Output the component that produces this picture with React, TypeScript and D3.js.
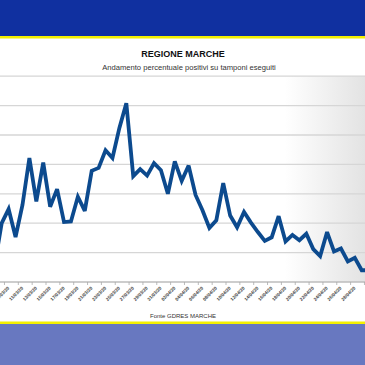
import React from "react";
import * as d3 from "d3";

const W = 365;
const H = 365;

const dates = [
  "07/03/20","08/03/20","09/03/20","10/03/20","11/03/20","12/03/20","13/03/20","14/03/20","15/03/20","16/03/20",
  "17/03/20","18/03/20","19/03/20","20/03/20","21/03/20","22/03/20","23/03/20","24/03/20","25/03/20","26/03/20",
  "27/03/20","28/03/20","29/03/20","30/03/20","31/03/20","01/04/20","02/04/20","03/04/20","04/04/20","05/04/20",
  "06/04/20","07/04/20","08/04/20","09/04/20","10/04/20","11/04/20","12/04/20","13/04/20","14/04/20","15/04/20",
  "16/04/20","17/04/20","18/04/20","19/04/20","20/04/20","21/04/20","22/04/20","23/04/20","24/04/20","25/04/20",
  "26/04/20","27/04/20","28/04/20","29/04/20","30/04/20"
];

const positivi = [
  3.0, 10.0, 12.4, 7.65, 13.1, 21.1, 13.7, 20.3, 12.8, 15.8,
  10.2, 10.3, 14.5, 12.1, 18.9, 19.4, 22.4, 21.1, 26.2, 30.4,
  18.0, 19.2, 18.1, 20.2, 19.0, 15.0, 20.5, 17.2, 19.8, 14.8,
  12.2, 9.2, 10.5, 16.8, 11.3, 9.3, 11.9, 10.1, 8.5, 7.0,
  7.6, 11.2, 6.9, 8.0, 7.1, 8.2, 5.6, 4.4, 8.5, 5.2,
  5.7, 3.5, 4.1, 2.0, 2.0
];

const yTicks = [0, 5, 10, 15, 20, 25, 30, 35];

const title = "REGIONE MARCHE";
const subtitle = "Andamento percentuale positivi su tamponi eseguiti";
const source = "Fonte GDRES MARCHE";

export default function App() {
  const x = d3.scaleLinear().domain([0, dates.length - 1]).range([-5.22, -5.22 + 6.923 * (dates.length - 1)]);
  const y = d3.scaleLinear().domain([0, 35]).range([282, 76.2]);
  const line = d3
    .line<number>()
    .x((_, i) => x(i))
    .y((d) => y(d))
    .curve(d3.curveLinear);

  const tickIdx = d3.range(1, dates.length, 2).map((i) => i + 0.4);
  const labelIdx = d3.range(0, dates.length, 2).filter((i) => x(i) > 4 && x(i) < W - 2);

  return (
    <svg
      width={W}
      height={H}
      style={{ position: "absolute", left: 0, top: 0, display: "block" }}
      fontFamily="Arial, 'Liberation Sans', sans-serif"
    >
      <defs>
        <linearGradient id="plotGrad" x1="0" x2="1" y1="0" y2="0">
          <stop offset="0" stopColor="#ffffff" />
          <stop offset="0.78" stopColor="#ffffff" />
          <stop offset="1" stopColor="#e3e3e3" />
        </linearGradient>
        <clipPath id="clipAll">
          <rect x={0} y={38} width={W} height={284} />
        </clipPath>
      </defs>
      <rect x={0} y={0} width={W} height={H} fill="#ffffff" />
      <rect x={0} y={0} width={W} height={36} fill="#1030a0" />
      <rect x={0} y={36} width={W} height={2.5} fill="#f4f000" />
      <rect x={0} y={y(35)} width={W} height={y(0) - y(35)} fill="url(#plotGrad)" />

      {yTicks.map((t) => (
        <line key={t} x1={0} x2={W} y1={y(t)} y2={y(t)} stroke={t === 0 ? "#bdbdbd" : "#d6d6d6"} strokeWidth={1.3} />
      ))}
      {tickIdx.map((i) => (
        <line key={i} x1={x(i)} x2={x(i)} y1={y(0)} y2={y(0) + 3} stroke="#aaaaaa" strokeWidth={0.8} />
      ))}
      {labelIdx.map((i) => (
        <text
          key={i}
          transform={`translate(${x(i) + 1},${y(0) + 6.5}) rotate(-45)`}
          textAnchor="end"
          fontSize={4.6}
          fontWeight="bold"
          fill="#444"
        >
          {dates[i]}
        </text>
      ))}

      <g clipPath="url(#clipAll)">
        <path d={line(positivi) || ""} fill="none" stroke="#0c4a8e" strokeWidth={3.8} strokeLinejoin="miter" strokeMiterlimit={3} />
      </g>

      <text x={183} y={56.5} textAnchor="middle" fontSize={9} fontWeight="bold" fill="#111">
        {title}
      </text>
      <text x={189} y={69.5} textAnchor="middle" fontSize={7.6} fill="#333">
        {subtitle}
      </text>
      <text x={183} y={318} textAnchor="middle" fontSize={6} fill="#333">
        {source}
      </text>

      <rect x={0} y={321.5} width={W} height={2.5} fill="#f4f000" />
      <rect x={0} y={324} width={W} height={H - 324} fill="#6878c0" />
    </svg>
  );
}
